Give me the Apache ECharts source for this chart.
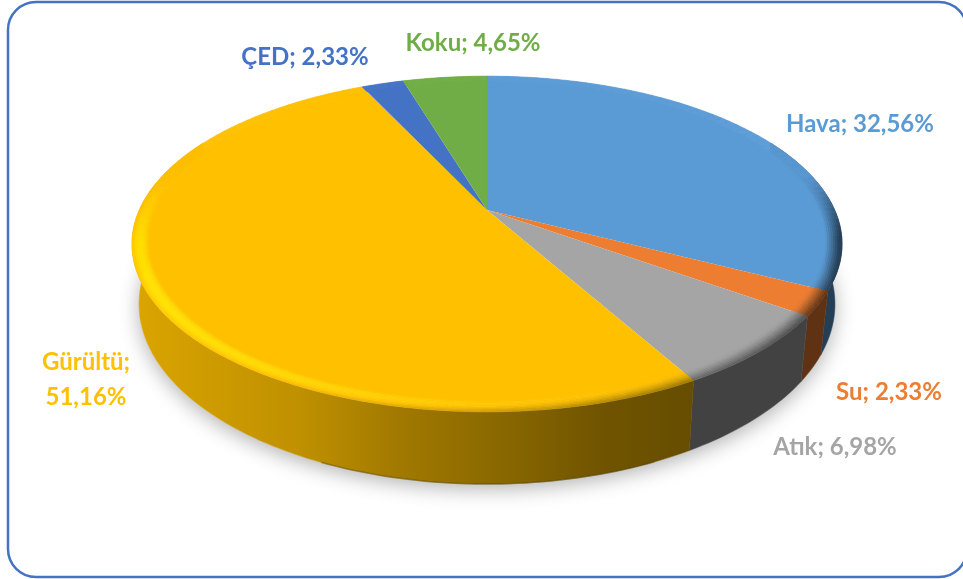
<!DOCTYPE html>
<html>
<head>
<meta charset="utf-8">
<style>
  html, body { margin: 0; padding: 0; background: #fff; }
  #chart { width: 963px; height: 579px; }
</style>
<script src="https://cdn.jsdelivr.net/npm/echarts@6/dist/echarts.min.js"></script>
</head>
<body>
<div id="chart"></div>
<script>
'use strict';

const categories = ['Hava', 'Su', 'Atık', 'Gürültü', 'ÇED', 'Koku'];
const values = [32.56, 2.33, 6.98, 51.16, 2.33, 4.65];
const sliceColors = ['#5B9BD5', '#ED7D31', '#A5A5A5', '#FFC000', '#4472C4', '#70AD47'];

// label centre per slice, text comes from the data
const labelAnchors = [[860, 124], [889, 392], [835, 447], [86, 380], [305, 57], [473, 43]];
const labelBreak = [false, false, false, true, false, false];

// fake perspective of the tilted disc
const CX = 487, CY = 210, KP = 0.2024, AY = 161, BX = 347.7;
const DEPTH = 57.6, BOTTOM_SHRINK = 0.98, RIM_R = 0.955, RIM_STRIPS = 8;

const total = values.reduce((a, b) => a + b, 0);
const starts = [];
values.reduce((acc, v, i) => { starts[i] = acc; return acc + v; }, 0);

function toAngle(v) { return v / total * Math.PI * 2; }

function project(theta, r) {
  const u = r * Math.sin(theta);
  const v = r * Math.cos(theta);
  const den = 1 + KP * v;
  return [CX + BX * u / den, CY - AY * v / den];
}

function projectBottom(theta) {
  const v = Math.cos(theta);
  const p = project(theta, 1);
  return [CX + (p[0] - CX) * BOTTOM_SHRINK, p[1] + DEPTH / (1 + KP * v)];
}

function hexRgb(hex) {
  return [1, 3, 5].map((i) => parseInt(hex.substr(i, 2), 16));
}

function shade(hex, b) {
  const c = hexRgb(hex).map((x) => Math.min(255, Math.round(x * b)));
  return 'rgb(' + c.join(',') + ')';
}

function arcPoints(a0, a1, r, step) {
  const n = Math.max(1, Math.ceil((a1 - a0) / step));
  const pts = [];
  for (let i = 0; i <= n; i++) {
    pts.push(project(a0 + (a1 - a0) * i / n, r));
  }
  return pts;
}

function rimBrightness(theta, s) {
  const u = Math.sin(theta);
  const v = Math.cos(theta);
  const phi = s * Math.PI / 2;
  const amt = -0.36 * u + 0.16 * Math.max(0, -v);
  let b = 1 + Math.sin(phi) * amt - (1 - Math.cos(phi)) * 0.36;
  const w = Math.max(0, Math.min(1, (0.22 - v) / 0.4));
  b = 1 + (b - 1) * w;
  return Math.max(0.42, b);
}

function renderShadow(params) {
  if (params.dataIndex !== 0) return null;
  const pts = [];
  for (let i = 0; i < 180; i++) {
    pts.push(projectBottom(i / 180 * Math.PI * 2));
  }
  return {
    type: 'polygon',
    shape: { points: pts },
    style: { fill: '#fff', shadowBlur: 20, shadowColor: 'rgba(0,0,0,0.3)', shadowOffsetY: 5 }
  };
}

function wallFill(color) {
  const stops = [[0, 0.86], [0.236, 0.75], [0.377, 0.63], [0.518, 0.54], [0.658, 0.44], [0.785, 0.40], [1, 0.40]];
  return new echarts.graphic.LinearGradient(132, 0, 843, 0, stops.map((s) => ({
    offset: s[0],
    color: shade(color, s[1])
  })), true);
}

function renderWall(params, api) {
  const i = params.dataIndex;
  const a0 = Math.max(toAngle(starts[i]), Math.PI * 0.35);
  const a1 = Math.min(toAngle(starts[i] + api.value(1)), Math.PI * 1.65);
  if (a1 <= a0) return null;
  const n = Math.ceil((a1 - a0) / 0.02);
  const top = [];
  const bot = [];
  const edge = [];
  for (let k = 0; k <= n; k++) {
    const t = a0 + (a1 - a0) * k / n;
    top.push(project(t, 1));
    bot.push(projectBottom(t));
    // only the front of the disc has the dark bottom edge
    if (Math.abs(Math.sin(t)) < 0.4) edge.push(projectBottom(t));
  }
  const fill = wallFill(sliceColors[i]);
  const children = [
    { type: 'polygon', shape: { points: top.concat(bot.slice().reverse()) }, style: { fill: fill, stroke: fill, lineWidth: 0.5 } }
  ];
  if (edge.length > 1) {
    children.push({ type: 'polyline', shape: { points: edge }, style: { fill: 'none', stroke: shade(sliceColors[i], 0.3), opacity: 0.4, lineWidth: 1.5 } });
  }
  return { type: 'group', children: children };
}

function renderTop(params, api) {
  const i = params.dataIndex;
  const color = sliceColors[i];
  const a0 = toAngle(starts[i]);
  const a1 = toAngle(starts[i] + api.value(1));
  const children = [];

  children.push({
    type: 'polygon',
    shape: { points: [project(0, 0)].concat(arcPoints(a0, a1, RIM_R + 0.004, 0.02)) },
    style: { fill: color }
  });

  const n = Math.max(1, Math.ceil((a1 - a0) / 0.035));
  for (let j = 0; j < RIM_STRIPS; j++) {
    const rIn = RIM_R + (1 - RIM_R) * j / RIM_STRIPS;
    const rOut = RIM_R + (1 - RIM_R) * (j + 1) / RIM_STRIPS;
    const s = (j + 0.5) / RIM_STRIPS;
    for (let k = 0; k < n; k++) {
      const t0 = a0 + (a1 - a0) * k / n;
      const t1 = a0 + (a1 - a0) * (k + 1) / n;
      const fill = shade(color, rimBrightness((t0 + t1) / 2, s));
      children.push({
        type: 'polygon',
        shape: { points: [project(t0, rIn), project(t1, rIn), project(t1, rOut), project(t0, rOut)] },
        style: { fill: fill, stroke: fill, lineWidth: 0.6 }
      });
    }
  }
  return { type: 'group', children: children };
}

function renderLabel(params, api) {
  const i = params.dataIndex;
  const pct = api.value(1).toFixed(2).replace('.', ',') + '%';
  return {
    type: 'text',
    x: labelAnchors[i][0],
    y: labelAnchors[i][1],
    style: {
      text: categories[i] + ';' + (labelBreak[i] ? '\n' : ' ') + pct,
      fill: sliceColors[i],
      font: 'bold 24px Lato',
      lineHeight: 35,
      align: 'center',
      verticalAlign: 'middle'
    }
  };
}

const seriesData = categories.map((name, i) => [name, values[i]]);

function layer(renderItem, z) {
  return {
    type: 'custom',
    coordinateSystem: 'none',
    silent: true,
    z: z,
    data: seriesData,
    renderItem: renderItem
  };
}

const chart = echarts.init(document.getElementById('chart'));
chart.setOption({
  animation: false,
  backgroundColor: '#fff',
  graphic: [{
    type: 'rect',
    z: 0,
    shape: { x: 8, y: 2, width: 959, height: 575, r: 28 },
    style: { fill: '#fff', stroke: '#4472C4', lineWidth: 2.5 }
  }],
  series: [
    layer(renderShadow, 1),
    layer(renderWall, 2),
    layer(renderTop, 3),
    layer(renderLabel, 4)
  ]
});
</script>
</body>
</html>
